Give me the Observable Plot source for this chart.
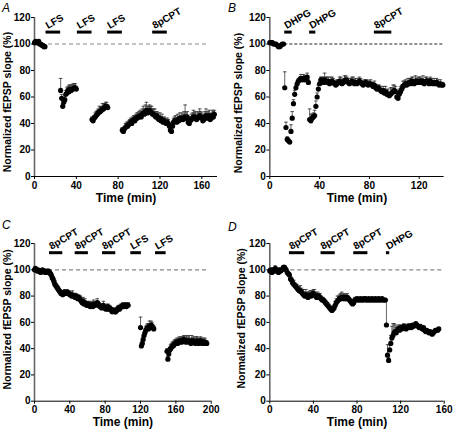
<!DOCTYPE html>
<html><head><meta charset="utf-8">
<script src="https://cdn.jsdelivr.net/npm/d3@7"></script>
<script src="https://cdn.jsdelivr.net/npm/@observablehq/plot@0.6"></script>
<style>
body{margin:0;background:#fff}
#chart{position:relative;width:453px;height:433px;font-family:"Liberation Sans",Arial,sans-serif;overflow:hidden}
#chart svg{position:absolute}
.letter{position:absolute;font-style:italic;font-size:12px;line-height:1;font-family:"Liberation Sans",Arial,sans-serif}
</style>
</head><body><div id="chart"></div>
<script>
// ---------- Shared ----------
const yTicks = [0, 20, 40, 60, 80, 100, 120];
const sampleStep = 1; // min between recordings

// ---------- Panel A ----------
const aXTicks = [0, 40, 80, 120, 160];
const aStarts = [0, 25, 55, 84];
const aValues = [
  [101,102,101,101,102,100,100,99,99,98,98],
  [65,59,53,56,58,62,63,65,64,66,65,66,66,67,67,66],
  [43,42,44,45,46,47,48,49,49,50,51,51,52,53,53,52],
  [35,34,36,37,38,38,39,
   40,41,40,42,43,42,44,44,45,45,
   46,45,47,48,47,49,50,48,49,50,
   49,48,47,47,46,45,46,44,43,44,
   42,43,41,42,41,40,41,40,38,35,
   34,38,41,42,42,41,43,42,44,43,
   44,43,44,45,44,45,41,40,42,43,
   44,45,44,45,43,44,45,46,45,44,
   42,43,45,46,44,45,46,43,44,46,45,47]
];
const aErrors = [
  [1,1,1,1,1,1,1,1,1,1,1],
  [9,3,2,2,3,3,4,3,5,3,4,3,4,3,3,2],
  [2,2,2,3,3,3,3,4,3,3,4,4,3,3,3,2],
  [2,2,2,3,3,3,3,
   3,3,4,3,3,4,3,4,3,4,
   4,3,4,5,4,5,6,5,4,4,
   4,5,4,4,5,4,3,4,3,4,
   3,4,3,3,3,2,3,3,2,2,
   2,3,3,3,4,3,4,3,4,3,
   4,4,5,9,4,4,3,3,3,4,
   4,5,4,4,3,4,4,5,4,4,
   3,4,4,5,4,4,4,3,4,4,4,3]
];
const aBarNames = ["LFS", "LFS", "LFS", "8pCPT"];
const aBarStarts = [11, 41, 70, 113];
const aBarEnds = [25, 55, 84, 127];

// ---------- Panel B ----------
const bXTicks = [0, 40, 80, 120];
const bStarts = [0, 12, 32];
const bValues = [
  [101,101,101,100,100,100,99,98,98,99,100,100],
  [67,37,28,27,26,34,44,55,62,67,70,72,73,74,73,74,73,74,75,71],
  [43,42,44,45,46,53,60,66,70,73,
   72,71,73,72,71,72,70,71,72,71,
   70,69,70,71,72,71,70,71,72,73,
   72,71,70,71,72,71,70,71,70,71,
   72,71,70,69,70,71,70,69,70,70,
   69,68,69,67,66,67,66,65,64,65,
   63,64,62,62,61,62,63,64,65,64,
   60,59,62,64,66,68,69,70,69,70,
   71,70,72,71,70,72,71,72,71,72,
   71,72,70,71,72,71,70,72,71,70,
   71,70,71,70,69,70,69,69]
];
const bErrors = [
  [1,1,1,1,1,1,1,1,1,1,1,1],
  [12,4,2,2,1,5,5,3,3,2,2,2,2,3,2,3,3,2,3,2],
  [8,5,3,3,4,4,3,3,2,2,
   3,4,5,3,4,3,3,4,3,3,
   2,3,3,2,3,4,3,3,4,3,
   3,3,2,3,3,4,3,3,2,3,
   3,3,2,3,3,2,3,3,2,3,
   2,3,3,2,3,2,3,3,2,3,
   3,4,3,4,3,5,4,5,4,4,
   4,3,4,4,3,4,3,3,3,4,
   3,4,3,4,3,4,3,3,4,3,
   3,4,3,4,3,3,4,3,3,2,
   3,2,3,3,2,3,2,2]
];
const bBarNames = ["DHPG", "DHPG", "8pCPT"];
const bBarStarts = [12, 32, 84];
const bBarEnds = [18, 37, 98];

// ---------- Panel C ----------
const cXTicks = [0, 40, 80, 120, 160, 200];
const cStarts = [0, 120, 150];
const cValues = [
  [100,101,100,99,100,99,99,98,99,100,
   99,99,98,99,98,99,99,98,97,96,
   94,93,91,89,88,87,86,85,84,83,
   82,82,81,82,83,82,82,83,82,82,
   81,81,80,81,80,80,79,80,79,78,
   79,78,77,76,75,76,74,75,74,73,
   73,74,73,72,73,73,72,74,73,73,
   74,75,74,73,72,72,71,72,73,71,
   71,70,71,72,70,71,70,69,68,69,
   69,68,68,69,70,71,70,71,72,72,
   73,72,73,73,72,73,73],
  [56,42,44,47,50,52,54,55,56,55,57,56,58,57,56,55],
  [38,32,36,39,40,41,42,42,43,44,
   44,45,44,45,46,45,46,45,46,47,
   46,45,46,45,46,46,45,44,46,45,
   46,45,44,45,46,45,44,45,46,45,
   44,45,44,45,44,44]
];
const cErrors = [
  [1,1,1,1,1,1,1,1,1,1,
   1,1,1,1,1,1,1,1,2,2,
   2,2,2,3,2,2,2,2,2,2,
   2,2,2,2,2,2,2,2,2,2,
   2,2,2,3,2,2,3,2,2,2,
   2,2,3,2,2,3,2,3,2,2,
   2,2,2,2,3,2,2,3,2,2,
   2,3,2,2,2,2,2,2,3,2,
   2,2,2,2,2,2,2,2,2,2,
   2,2,2,2,2,2,2,2,2,2,
   2,2,2,2,2,2,2],
  [8,2,2,2,2,3,3,3,3,4,4,3,3,3,2,2],
  [2,2,2,2,3,3,3,3,3,3,
   3,3,3,3,3,3,3,3,3,3,
   3,3,4,3,3,4,3,3,4,3,
   3,3,3,4,3,3,3,3,3,3,
   3,3,3,3,2,2]
];
const cBarNames = ["8pCPT", "8pCPT", "8pCPT", "LFS", "LFS"];
const cBarStarts = [17, 46, 77, 109, 137];
const cBarEnds = [32, 61, 92, 121, 149];

// ---------- Panel D ----------
const dXTicks = [0, 40, 80, 120, 160];
const dStarts = [0, 107];
const dValues = [
  [99,100,98,100,99,101,99,100,98,100,
   99,100,101,102,101,100,98,97,96,93,
   92,90,89,88,87,86,85,84,84,83,
   82,81,80,81,80,79,80,81,80,81,
   82,81,80,79,80,80,79,78,77,77,
   76,75,74,73,72,71,70,69,70,71,
   73,75,76,77,78,78,79,78,79,78,
   78,79,78,77,76,75,74,75,77,77,
   78,77,77,78,77,77,78,77,78,77,
   77,78,77,77,78,77,77,78,77,77,
   78,77,77,78,77,77,77],
  [58,
   35,31,39,44,48,50,52,53,52,54,
   55,54,56,55,56,57,56,55,56,57,
   56,57,56,58,57,58,59,58,57,56,
   57,56,55,56,54,53,54,53,52,53,
   52,51,52,53,54,54,54,55]
];
const dErrors = [
  [2,1,2,1,1,2,1,1,1,1,
   1,1,2,1,2,1,1,1,2,2,
   2,2,3,2,2,3,2,3,4,3,
   3,4,3,4,3,4,3,3,4,3,
   3,4,3,3,3,2,3,2,2,2,
   2,2,2,2,2,2,2,2,2,2,
   3,3,4,3,3,4,4,3,3,3,
   3,3,2,2,2,2,2,2,2,2,
   1,1,1,1,1,1,1,1,1,1,
   1,1,1,1,1,1,1,1,1,1,
   1,1,1,1,1,1,1],
  [19,
   8,2,4,6,9,9,7,5,4,3,
   3,3,2,2,2,2,2,2,2,2,
   2,2,2,1,2,1,1,1,1,1,
   1,1,1,1,1,1,1,1,1,1,
   1,1,1,1,1,1,1,1]
];
const dBarNames = ["8pCPT", "8pCPT", "8pCPT", "DHPG"];
const dBarStarts = [18, 47, 77, 107];
const dBarEnds = [32, 60, 90, 110];

// ---------- Drawing ----------
const capSymbol = {draw(ctx) { ctx.moveTo(-1.8, 0); ctx.lineTo(1.8, 0); }};

function buildRows(starts, values, errors) {
  const rows = [];
  values.forEach((seg, i) => seg.forEach((v, j) => rows.push({t: starts[i] + j * sampleStep, v, e: errors[i][j]})));
  return rows;
}

function panel(o) {
  const rows = buildRows(o.starts, o.values, o.errors);
  const bars = o.barNames.map((name, i) => ({name, x1: o.barStarts[i], x2: o.barEnds[i], y: o.barLevel}));
  const svg = Plot.plot({
    width: o.width, height: o.height,
    marginLeft: o.mL, marginRight: o.mR, marginTop: o.mT, marginBottom: o.mB,
    x: {domain: [0, o.xMax]},
    y: {domain: [0, 120]},
    style: {fontFamily: '"Liberation Sans", Arial, sans-serif', fontSize: "10px", fontWeight: "bold", color: "black", background: "transparent", overflow: "visible"},
    marks: [
      Plot.ruleY([100], {x1: 0, x2: o.dashEnd, stroke: o.dashColor, strokeDasharray: o.dash, strokeWidth: 1.2}),
      Plot.ruleY([0], {x1: 0, x2: o.xMax, stroke: "black", strokeWidth: 1}),
      Plot.ruleX([0], {y1: 0, y2: 120, stroke: "#666", strokeWidth: 1.6}),
      Plot.ruleX(rows, {x: "t", y1: "v", y2: d => d.v + d.e, stroke: "#222", strokeWidth: 0.7}),
      Plot.dot(rows, {x: "t", y: d => d.v + d.e, symbol: capSymbol, fill: "none", stroke: "#333", strokeWidth: 0.8, r: 2}),
      Plot.dot(rows, {x: "t", y: "v", r: 2.6, fill: "black"}),
      Plot.ruleY(bars, {x1: "x1", x2: "x2", y: "y", stroke: "black", strokeWidth: 3}),
      Plot.axisY({ticks: yTicks, tickSize: 3, tickPadding: 1, label: null}),
      Plot.axisX({ticks: o.xTicks, tickSize: 3, tickPadding: 2, label: null}),
      Plot.text(bars, {x: "x1", y: "y", text: "name", rotate: -30, textAnchor: "start", lineAnchor: "bottom", dx: 2, dy: -3, fontSize: 10}),
      Plot.text(["Time (min)"], {frameAnchor: "bottom", dy: o.xTitleDy, fontSize: 12}),
      Plot.text(["Normalized fEPSP slope (%)"], {frameAnchor: "left", textAnchor: "middle", rotate: -90, dx: o.yTitleDx, dy: o.yTitleDy, fontSize: 10.5})
    ]
  });
  svg.style.left = o.left + "px";
  svg.style.top = o.top + "px";
  return svg;
}

const chart = document.getElementById("chart");
chart.append(panel({starts: aStarts, values: aValues, errors: aErrors, xMax: 175, xTicks: aXTicks, dashEnd: 167,
  barNames: aBarNames, barStarts: aBarStarts, barEnds: aBarEnds, barLevel: 109,
  width: 226, height: 216, mL: 34, mR: 9, mT: 17, mB: 40, left: 0, top: 0,
  dashColor: "#888", dash: "4,3", xTitleDy: 25, yTitleDx: -27, yTitleDy: 5}));
chart.append(panel({starts: bStarts, values: bValues, errors: bErrors, xMax: 140, xTicks: bXTicks, dashEnd: 140,
  barNames: bBarNames, barStarts: bBarStarts, barEnds: bBarEnds, barLevel: 109,
  width: 227, height: 216, mL: 43.3, mR: 9.4, mT: 17, mB: 40, left: 226, top: 0,
  dashColor: "#222", dash: "3,2", xTitleDy: 25, yTitleDx: -31, yTitleDy: 6}));
chart.append(panel({starts: cStarts, values: cValues, errors: cErrors, xMax: 200, xTicks: cXTicks, dashEnd: 197,
  barNames: cBarNames, barStarts: cBarStarts, barEnds: cBarEnds, barLevel: 113,
  width: 226, height: 217, mL: 34, mR: 15.3, mT: 27, mB: 32.3, left: 0, top: 216,
  dashColor: "#888", dash: "4,3", xTitleDy: 24.5, yTitleDx: -27, yTitleDy: -3}));
chart.append(panel({starts: dStarts, values: dValues, errors: dErrors, xMax: 160, xTicks: dXTicks, dashEnd: 160,
  barNames: dBarNames, barStarts: dBarStarts, barEnds: dBarEnds, barLevel: 113,
  width: 227, height: 217, mL: 43.3, mR: 9.3, mT: 27, mB: 32.3, left: 226, top: 216,
  dashColor: "#888", dash: "4,3", xTitleDy: 24.5, yTitleDx: -28.5, yTitleDy: -4}));

[["A", 2, 2], ["B", 228, 2], ["C", 2, 219], ["D", 228, 221]].forEach(([t, x, y]) => {
  const d = document.createElement("div");
  d.className = "letter"; d.textContent = t;
  d.style.left = x + "px"; d.style.top = y + "px";
  chart.append(d);
});
</script>
</body></html>
